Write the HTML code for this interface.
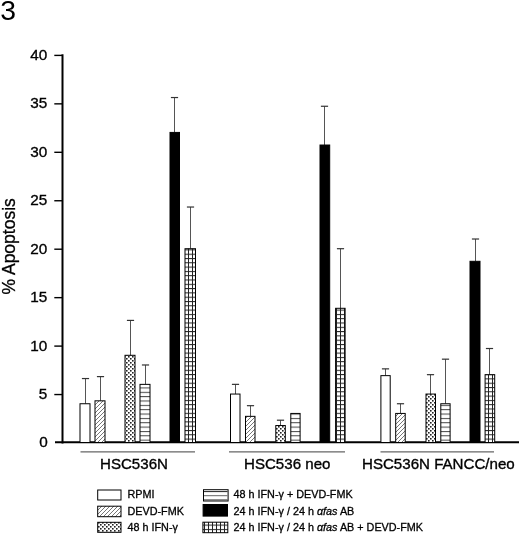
<!DOCTYPE html>
<html><head><meta charset="utf-8"><style>
html,body{margin:0;padding:0;background:#fff;}
body{width:520px;height:535px;overflow:hidden;}
svg{display:block;filter:grayscale(1);}
text{font-family:"Liberation Sans",sans-serif;fill:#000;}
.b{stroke:#000;stroke-width:0.35px;}
.c{stroke:#000;stroke-width:0.3px;}
</style></head><body>
<svg width="520" height="535" viewBox="0 0 520 535">
<defs>
<pattern id="pdiag" patternUnits="userSpaceOnUse" width="4" height="4">
<rect width="4" height="4" fill="#fff"/>
<path d="M-1,1 L1,-1 M0,4 L4,0 M3,5 L5,3" stroke="#777" stroke-width="1"/>
</pattern>
<pattern id="pdots" patternUnits="userSpaceOnUse" width="4" height="4">
<rect width="4" height="4" fill="#fff"/>
<rect x="0" y="0" width="1.6" height="1.6" fill="#222"/>
<rect x="2" y="2" width="1.6" height="1.6" fill="#222"/>
</pattern>
<pattern id="phl" patternUnits="userSpaceOnUse" width="4" height="4.35" y="0.3">
<rect width="4" height="4.35" fill="#fff"/>
<rect x="0" y="0" width="4" height="1" fill="#444"/>
</pattern>
<pattern id="pgrid" patternUnits="userSpaceOnUse" width="4" height="4.3">
<rect width="4" height="4.3" fill="#fff"/>
<rect x="0" y="0" width="4" height="1" fill="#222"/>
<rect x="0" y="0" width="1" height="4.3" fill="#222"/>
</pattern>
</defs>

<text transform="translate(0.3,19.5) scale(1.05,1)" font-size="27">3</text>
<text transform="translate(15.2,294.5) rotate(-90)" font-size="17.5" class="c">% Apoptosis</text>
<text x="47.8" y="446.70" font-size="15.3" text-anchor="end" class="b">0</text>
<line x1="54.3" y1="394.55" x2="62" y2="394.55" stroke="#000" stroke-width="1.4"/>
<text x="47.2" y="399.15" font-size="15.3" text-anchor="end" class="b">5</text>
<line x1="54.3" y1="346.10" x2="62" y2="346.10" stroke="#000" stroke-width="1.4"/>
<text x="47.2" y="350.70" font-size="15.3" text-anchor="end" class="b">10</text>
<line x1="54.3" y1="297.65" x2="62" y2="297.65" stroke="#000" stroke-width="1.4"/>
<text x="47.2" y="302.25" font-size="15.3" text-anchor="end" class="b">15</text>
<line x1="54.3" y1="249.20" x2="62" y2="249.20" stroke="#000" stroke-width="1.4"/>
<text x="47.2" y="253.80" font-size="15.3" text-anchor="end" class="b">20</text>
<line x1="54.3" y1="200.75" x2="62" y2="200.75" stroke="#000" stroke-width="1.4"/>
<text x="47.2" y="205.35" font-size="15.3" text-anchor="end" class="b">25</text>
<line x1="54.3" y1="152.30" x2="62" y2="152.30" stroke="#000" stroke-width="1.4"/>
<text x="47.2" y="156.90" font-size="15.3" text-anchor="end" class="b">30</text>
<line x1="54.3" y1="103.85" x2="62" y2="103.85" stroke="#000" stroke-width="1.4"/>
<text x="47.2" y="108.45" font-size="15.3" text-anchor="end" class="b">35</text>
<line x1="54.3" y1="55.40" x2="62" y2="55.40" stroke="#000" stroke-width="1.4"/>
<text x="47.2" y="60.00" font-size="15.3" text-anchor="end" class="b">40</text>
<line x1="62.5" y1="54.3" x2="62.5" y2="443.5" stroke="#000" stroke-width="2"/>
<line x1="55" y1="442.3" x2="519" y2="442.3" stroke="#000" stroke-width="2"/>
<line x1="85.50" y1="378.55" x2="85.50" y2="403.74" stroke="#555" stroke-width="1"/>
<line x1="81.90" y1="378.55" x2="89.10" y2="378.55" stroke="#333" stroke-width="1.2"/>
<rect x="80.00" y="403.74" width="10.00" height="38.76" fill="#fff" stroke="#000" stroke-width="1"/>
<line x1="100.50" y1="376.61" x2="100.50" y2="400.83" stroke="#555" stroke-width="1"/>
<line x1="96.90" y1="376.61" x2="104.10" y2="376.61" stroke="#333" stroke-width="1.2"/>
<rect x="95.00" y="400.83" width="10.00" height="41.67" fill="url(#pdiag)" stroke="#000" stroke-width="1"/>
<line x1="130.50" y1="320.41" x2="130.50" y2="355.29" stroke="#555" stroke-width="1"/>
<line x1="126.90" y1="320.41" x2="134.10" y2="320.41" stroke="#333" stroke-width="1.2"/>
<rect x="125.00" y="355.29" width="10.00" height="87.21" fill="url(#pdots)" stroke="#000" stroke-width="1"/>
<line x1="145.50" y1="364.98" x2="145.50" y2="384.36" stroke="#555" stroke-width="1"/>
<line x1="141.90" y1="364.98" x2="149.10" y2="364.98" stroke="#333" stroke-width="1.2"/>
<rect x="140.00" y="384.36" width="10.00" height="58.14" fill="url(#phl)" stroke="#000" stroke-width="1"/>
<line x1="174.50" y1="97.54" x2="174.50" y2="132.42" stroke="#555" stroke-width="1"/>
<line x1="170.90" y1="97.54" x2="178.10" y2="97.54" stroke="#333" stroke-width="1.2"/>
<rect x="170.00" y="132.42" width="9.50" height="310.08" fill="#000" stroke="#000" stroke-width="1"/>
<line x1="190.50" y1="207.03" x2="190.50" y2="248.70" stroke="#555" stroke-width="1"/>
<line x1="186.90" y1="207.03" x2="194.10" y2="207.03" stroke="#333" stroke-width="1.2"/>
<rect x="185.00" y="248.70" width="10.50" height="193.80" fill="url(#pgrid)" stroke="#000" stroke-width="1"/>
<line x1="235.50" y1="384.36" x2="235.50" y2="394.05" stroke="#555" stroke-width="1"/>
<line x1="231.90" y1="384.36" x2="239.10" y2="384.36" stroke="#333" stroke-width="1.2"/>
<rect x="230.50" y="394.05" width="9.50" height="48.45" fill="#fff" stroke="#000" stroke-width="1"/>
<line x1="250.50" y1="405.68" x2="250.50" y2="416.34" stroke="#555" stroke-width="1"/>
<line x1="246.90" y1="405.68" x2="254.10" y2="405.68" stroke="#333" stroke-width="1.2"/>
<rect x="245.50" y="416.34" width="9.50" height="26.16" fill="url(#pdiag)" stroke="#000" stroke-width="1"/>
<line x1="280.50" y1="420.21" x2="280.50" y2="425.54" stroke="#555" stroke-width="1"/>
<line x1="276.90" y1="420.21" x2="284.10" y2="420.21" stroke="#333" stroke-width="1.2"/>
<rect x="275.80" y="425.54" width="9.50" height="16.96" fill="url(#pdots)" stroke="#000" stroke-width="1"/>
<rect x="290.80" y="413.43" width="9.30" height="29.07" fill="url(#phl)" stroke="#000" stroke-width="1"/>
<line x1="324.50" y1="106.26" x2="324.50" y2="145.02" stroke="#555" stroke-width="1"/>
<line x1="320.90" y1="106.26" x2="328.10" y2="106.26" stroke="#333" stroke-width="1.2"/>
<rect x="320.00" y="145.02" width="9.70" height="297.48" fill="#000" stroke="#000" stroke-width="1"/>
<line x1="340.50" y1="248.70" x2="340.50" y2="308.29" stroke="#555" stroke-width="1"/>
<line x1="336.90" y1="248.70" x2="344.10" y2="248.70" stroke="#333" stroke-width="1.2"/>
<rect x="335.60" y="308.29" width="9.50" height="134.21" fill="url(#pgrid)" stroke="#000" stroke-width="1"/>
<line x1="385.50" y1="368.86" x2="385.50" y2="375.64" stroke="#555" stroke-width="1"/>
<line x1="381.90" y1="368.86" x2="389.10" y2="368.86" stroke="#333" stroke-width="1.2"/>
<rect x="380.90" y="375.64" width="9.30" height="66.86" fill="#fff" stroke="#000" stroke-width="1"/>
<line x1="400.50" y1="403.74" x2="400.50" y2="413.43" stroke="#555" stroke-width="1"/>
<line x1="396.90" y1="403.74" x2="404.10" y2="403.74" stroke="#333" stroke-width="1.2"/>
<rect x="395.70" y="413.43" width="9.50" height="29.07" fill="url(#pdiag)" stroke="#000" stroke-width="1"/>
<line x1="430.50" y1="374.67" x2="430.50" y2="394.05" stroke="#555" stroke-width="1"/>
<line x1="426.90" y1="374.67" x2="434.10" y2="374.67" stroke="#333" stroke-width="1.2"/>
<rect x="426.00" y="394.05" width="9.50" height="48.45" fill="url(#pdots)" stroke="#000" stroke-width="1"/>
<line x1="445.50" y1="359.17" x2="445.50" y2="403.74" stroke="#555" stroke-width="1"/>
<line x1="441.90" y1="359.17" x2="449.10" y2="359.17" stroke="#333" stroke-width="1.2"/>
<rect x="440.80" y="403.74" width="9.30" height="38.76" fill="url(#phl)" stroke="#000" stroke-width="1"/>
<line x1="475.50" y1="239.01" x2="475.50" y2="261.30" stroke="#555" stroke-width="1"/>
<line x1="471.90" y1="239.01" x2="479.10" y2="239.01" stroke="#333" stroke-width="1.2"/>
<rect x="470.00" y="261.30" width="10.00" height="181.20" fill="#000" stroke="#000" stroke-width="1"/>
<line x1="489.50" y1="348.51" x2="489.50" y2="374.67" stroke="#555" stroke-width="1"/>
<line x1="485.90" y1="348.51" x2="493.10" y2="348.51" stroke="#333" stroke-width="1.2"/>
<rect x="485.10" y="374.67" width="9.60" height="67.83" fill="url(#pgrid)" stroke="#000" stroke-width="1"/>
<line x1="80.5" y1="451.8" x2="195" y2="451.8" stroke="#666" stroke-width="1.3"/>
<line x1="229" y1="451.8" x2="345" y2="451.8" stroke="#666" stroke-width="1.3"/>
<line x1="380.5" y1="451.8" x2="494" y2="451.8" stroke="#666" stroke-width="1.3"/>
<text x="100" y="468.5" font-size="15.1" class="b">HSC536N</text>
<text x="244" y="468.5" font-size="15.1" class="b">HSC536 neo</text>
<text x="362" y="468.5" font-size="15.1" class="b">HSC536N FANCC/neo</text>
<rect x="97.70" y="490.00" width="23.30" height="10.00" fill="#fff" stroke="#000" stroke-width="1"/>
<rect x="97.70" y="506.20" width="23.30" height="10.50" fill="url(#pdiag)" stroke="#000" stroke-width="1"/>
<rect x="97.70" y="522.30" width="23.30" height="10.00" fill="url(#pdots)" stroke="#000" stroke-width="1"/>
<rect x="203.50" y="489.70" width="24.60" height="11.30" fill="#fff" stroke="#000" stroke-width="1"/>
<line x1="204.00" y1="491.6" x2="227.60" y2="491.6" stroke="#222" stroke-width="1"/>
<line x1="204.00" y1="495.7" x2="227.60" y2="495.7" stroke="#666" stroke-width="1"/>
<line x1="204.00" y1="499.9" x2="227.60" y2="499.9" stroke="#444" stroke-width="1"/>
<rect x="203.10" y="504.50" width="24.40" height="11.60" fill="#000" stroke="#000" stroke-width="1"/>
<rect x="202.90" y="522.20" width="24.90" height="10.50" fill="url(#pgrid)" stroke="#000" stroke-width="1"/>
<text x="127.5" y="498" font-size="10.8" class="c">RPMI</text>
<text x="233.5" y="498" font-size="10.8" class="c">48 h IFN-γ + DEVD-FMK</text>
<text x="127.5" y="514.5" font-size="10.8" class="c">DEVD-FMK</text>
<text x="233.5" y="514.5" font-size="10.8" class="c">24 h IFN-γ / 24 h <tspan font-style="italic">αfas</tspan> AB</text>
<text x="127.5" y="531" font-size="10.8" class="c">48 h IFN-γ</text>
<text x="233.5" y="531" font-size="10.8" class="c">24 h IFN-γ / 24 h <tspan font-style="italic">αfas</tspan> AB + DEVD-FMK</text>
</svg>
</body></html>
